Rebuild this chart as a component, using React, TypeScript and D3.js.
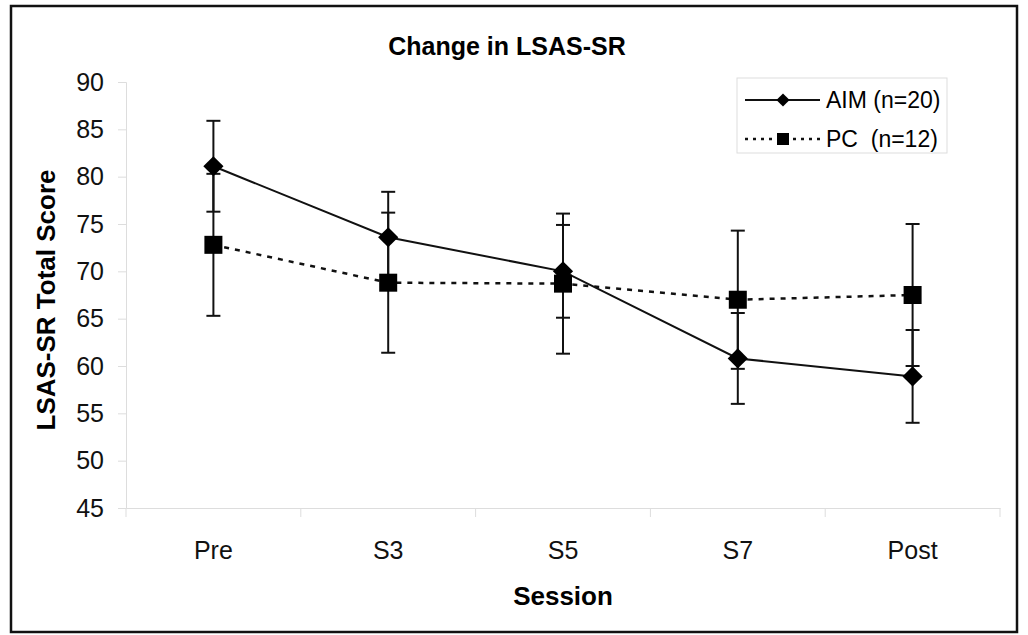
import React, { useEffect, useRef } from "react";
import * as d3 from "d3";

const sessions = ["Pre", "S3", "S5", "S7", "Post"];
const aimMeans = [81.1, 73.6, 70.0, 60.8, 58.9];
const aimErrors = [4.8, 4.8, 4.9, 4.8, 4.9];
const pcMeans = [72.8, 68.8, 68.7, 67.0, 67.5];
const pcErrors = [7.5, 7.4, 7.4, 7.3, 7.5];
const yTicks = [45, 50, 55, 60, 65, 70, 75, 80, 85, 90];

const FONT = "'Liberation Sans', Arial, sans-serif";

const App = () => {
  const ref = useRef<SVGSVGElement>(null);

  useEffect(() => {
    const svg = d3.select(ref.current).attr("width", 1028).attr("height", 635);
    svg.selectAll("*").remove();

    const left = 126, right = 1000, top = 82, bottom = 508;

    const x = d3.scaleBand().domain(sessions).range([left, right]);
    const y = d3.scaleLinear().domain([45, 90]).range([bottom, top]);
    const cx = (s: string) => (x(s) as number) + x.bandwidth() / 2;

    // outer frame
    svg.append("rect")
      .attr("x", 11).attr("y", 6).attr("width", 1006).attr("height", 626)
      .attr("fill", "white").attr("stroke", "#111").attr("stroke-width", 2.5);

    // axes
    const yAxis = svg.append("g")
      .attr("transform", `translate(${left},0)`)
      .call(d3.axisLeft(y).tickValues(yTicks).tickSize(8).tickPadding(14));
    const xAxis = svg.append("g")
      .attr("transform", `translate(0,${bottom})`)
      .call(d3.axisBottom(x).tickSize(0).tickPadding(33));
    // category boundary ticks
    xAxis.selectAll("line.sep")
      .data(sessions.concat(["_end"]))
      .join("line")
      .attr("class", "sep")
      .attr("x1", (d, i) => left + i * x.bandwidth())
      .attr("x2", (d, i) => left + i * x.bandwidth())
      .attr("y1", 0).attr("y2", 9)
      .attr("stroke", "#ddd");
    [yAxis, xAxis].forEach((g) => {
      g.selectAll(".domain").attr("stroke", "#ddd");
      g.selectAll(".tick line").attr("stroke", "#ddd");
      g.selectAll("text")
        .attr("font-family", FONT).attr("font-size", 25).attr("fill", "#111");
    });

    // error bars
    const drawErr = (means: number[], errs: number[]) => {
      const g = svg.append("g").attr("stroke", "#111").attr("stroke-width", 2);
      sessions.forEach((s, i) => {
        const x0 = cx(s);
        const y1 = y(means[i] + errs[i]);
        const y2 = y(means[i] - errs[i]);
        g.append("line").attr("x1", x0).attr("x2", x0).attr("y1", y1).attr("y2", y2);
        [y1, y2].forEach((yy) =>
          g.append("line").attr("x1", x0 - 7).attr("x2", x0 + 7).attr("y1", yy).attr("y2", yy)
        );
      });
    };
    drawErr(pcMeans, pcErrors);
    drawErr(aimMeans, aimErrors);

    const line = d3.line<number>()
      .x((d, i) => cx(sessions[i]))
      .y((d) => y(d));

    svg.append("path")
      .attr("d", line(pcMeans))
      .attr("fill", "none").attr("stroke", "#111")
      .attr("stroke-width", 2.5).attr("stroke-dasharray", "5,6");
    svg.append("path")
      .attr("d", line(aimMeans))
      .attr("fill", "none").attr("stroke", "#111").attr("stroke-width", 2);

    const diamond = d3.symbol().type(d3.symbolDiamond2);
    svg.append("g").selectAll("path")
      .data(aimMeans)
      .join("path")
      .attr("d", diamond.size(260)())
      .attr("transform", (d, i) => `translate(${cx(sessions[i])},${y(d)})`)
      .attr("fill", "#000");
    svg.append("g").selectAll("rect")
      .data(pcMeans)
      .join("rect")
      .attr("x", (d, i) => cx(sessions[i]) - 9)
      .attr("y", (d) => y(d) - 9)
      .attr("width", 18).attr("height", 18)
      .attr("fill", "#000");

    // titles
    svg.append("text")
      .attr("x", 507).attr("y", 55).attr("text-anchor", "middle")
      .attr("font-family", FONT).attr("font-size", 25).attr("font-weight", "bold")
      .text("Change in LSAS-SR");
    svg.append("text")
      .attr("x", 563).attr("y", 605).attr("text-anchor", "middle")
      .attr("font-family", FONT).attr("font-size", 26).attr("font-weight", "bold")
      .text("Session");
    svg.append("text")
      .attr("transform", "translate(55,300) rotate(-90)")
      .attr("text-anchor", "middle")
      .attr("font-family", FONT).attr("font-size", 26).attr("font-weight", "bold")
      .text("LSAS-SR Total Score");

    // legend
    const lg = svg.append("g");
    lg.append("rect")
      .attr("x", 737).attr("y", 78).attr("width", 210).attr("height", 75)
      .attr("fill", "white").attr("stroke", "#ddd");
    lg.append("line")
      .attr("x1", 745).attr("x2", 820).attr("y1", 100).attr("y2", 100)
      .attr("stroke", "#111").attr("stroke-width", 2);
    lg.append("path")
      .attr("d", diamond.size(110)())
      .attr("transform", "translate(783,100)");
    lg.append("line")
      .attr("x1", 745).attr("x2", 820).attr("y1", 139).attr("y2", 139)
      .attr("stroke", "#111").attr("stroke-width", 2.5).attr("stroke-dasharray", "3,5");
    lg.append("rect")
      .attr("x", 777).attr("y", 133).attr("width", 12).attr("height", 12);
    lg.append("text")
      .attr("x", 826).attr("y", 108)
      .attr("font-family", FONT).attr("font-size", 23)
      .text("AIM (n=20)");
    lg.append("text")
      .attr("x", 826).attr("y", 147)
      .attr("font-family", FONT).attr("font-size", 23)
      .attr("xml:space", "preserve").style("white-space", "pre")
      .text("PC  (n=12)");
  }, []);

  return <svg ref={ref} style={{ position: "absolute", left: 0, top: 0 }}></svg>;
};

export default App;
